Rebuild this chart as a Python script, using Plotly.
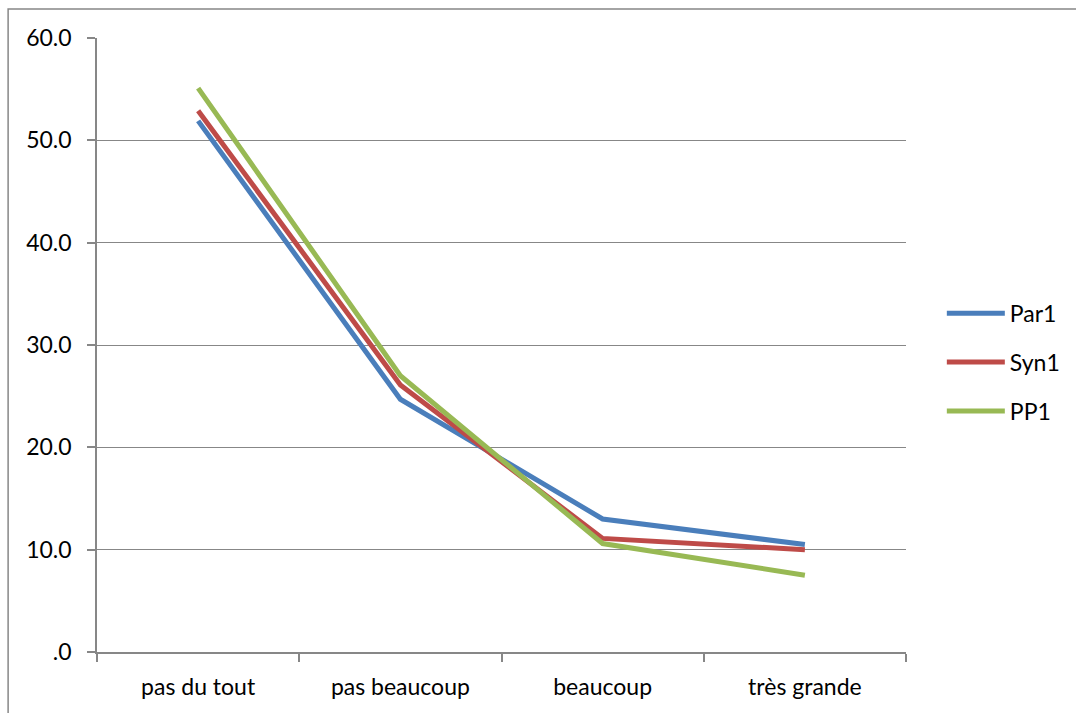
import plotly.graph_objects as go

categories = ["pas du tout", "pas beaucoup", "beaucoup", "très grande"]
par1 = [51.9, 24.7, 13.0, 10.5]
syn1 = [52.9, 26.1, 11.1, 10.0]
pp1 = [55.1, 27.0, 10.6, 7.5]
series_names = ["Par1", "Syn1", "PP1"]
series_colors = ["#4A7EBB", "#BE4B48", "#98B954"]
y_tickvals = [0, 10, 20, 30, 40, 50, 60]
y_ticktext = [".0", "10.0", "20.0", "30.0", "40.0", "50.0", "60.0"]

W, H = 1076, 713
L, R, T, B = 97, 907, 38, 652

fig = go.Figure()
for i, (name, vals) in enumerate(zip(series_names, [par1, syn1, pp1])):
    fig.add_trace(go.Scatter(
        x=categories, y=vals, mode="lines", name=name,
        legendgroup=name,
        line=dict(color=series_colors[i], width=5),
    ))

font = dict(family="Lato, Carlito, Calibri, sans-serif", size=23, color="#000000")

fig.update_layout(
    width=W, height=H,
    margin=dict(l=L, r=W - R, t=T, b=H - B, pad=0),
    paper_bgcolor="white", plot_bgcolor="white",
    font=font,
    showlegend=True,
    legend=dict(x=1.043, y=0.472, xanchor="left", yanchor="middle",
                traceorder="grouped", tracegroupgap=16,
                font=font, bgcolor="rgba(0,0,0,0)", itemwidth=58),
    xaxis=dict(
        type="category", range=[-0.5, 3.5],
        showgrid=False, showline=True, linecolor="#878787", linewidth=1.5,
        ticks="outside", ticklen=8, tickcolor="#878787", tickwidth=1.5,
        tickson="boundaries", ticklabelstandoff=14, zeroline=False,
    ),
    yaxis=dict(
        range=[0, 60], tickvals=y_tickvals, ticktext=y_ticktext,
        showgrid=True, gridcolor="#878787", gridwidth=1.3,
        showline=True, linecolor="#878787", linewidth=1.5,
        ticks="outside", ticklen=8, tickcolor="#878787", tickwidth=1.5,
        ticklabelstandoff=11, zeroline=False,
    ),
)

# chart-area border (extends beyond the visible window on right and bottom)
pw, ph = R - L, B - T
fig.add_shape(type="rect", xref="paper", yref="paper",
              x0=(8 - L) / pw, x1=(1090 - L) / pw,
              y0=(B - 730) / ph, y1=(B - 9) / ph,
              line=dict(color="#878787", width=1.5), fillcolor="rgba(0,0,0,0)",
              layer="below")

fig.write_html("out.html")
